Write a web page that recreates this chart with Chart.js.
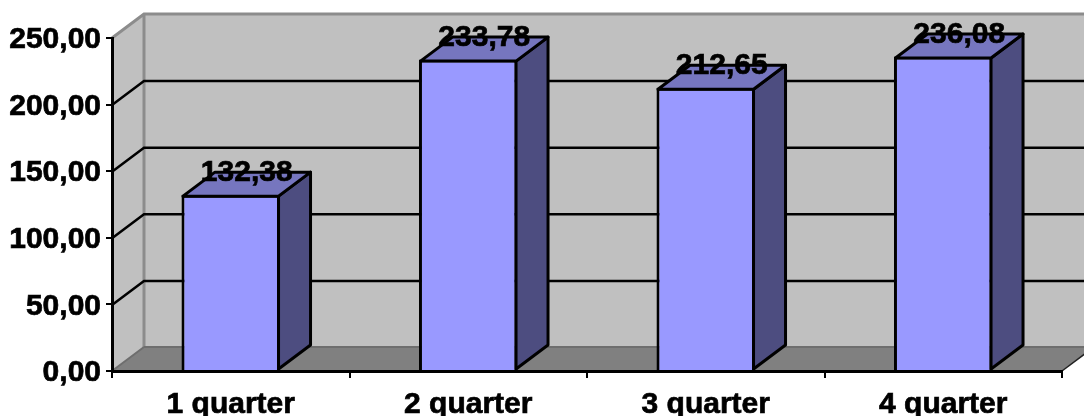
<!DOCTYPE html>
<html>
<head>
<meta charset="utf-8">
<style>
  html, body { margin: 0; padding: 0; background: #fff; }
  canvas { display: block; }
</style>
<script src="https://cdn.jsdelivr.net/npm/chart.js@4/dist/chart.umd.min.js"></script>
</head>
<body>
<canvas id="quarters" width="1084" height="416"></canvas>
<script>
const categories = ['1 quarter', '2 quarter', '3 quarter', '4 quarter'];
const values = [132.38, 233.78, 212.65, 236.08];
const yTicks = [0, 50, 100, 150, 200, 250];

const DEPTH_X = 32;
const DEPTH_Y = -24;
const FONT = 'bold 30px "Liberation Sans", Arial, sans-serif';

const fmt = v => v.toFixed(2).replace('.', ',');

function poly(ctx, pts, fill, stroke, lineWidth) {
  ctx.beginPath();
  pts.forEach((p, i) => (i ? ctx.lineTo(p[0], p[1]) : ctx.moveTo(p[0], p[1])));
  ctx.closePath();
  if (fill) {
    ctx.fillStyle = fill;
    ctx.fill();
  }
  if (stroke) {
    ctx.strokeStyle = stroke;
    ctx.lineWidth = lineWidth;
    ctx.lineJoin = 'round';
    ctx.stroke();
  }
}

// walls and floor of the 3d box, behind everything else
const box3d = {
  id: 'box3d',
  beforeDraw(chart) {
    const { ctx, scales } = chart;
    const l = scales.x.left, r = scales.x.right;
    const t = scales.y.getPixelForValue(250), b = scales.y.getPixelForValue(0);
    const dx = DEPTH_X, dy = DEPTH_Y;
    ctx.save();
    poly(ctx, [[l + dx, t + dy], [r + dx, t + dy], [r + dx, b + dy], [l + dx, b + dy]], '#c0c0c0');
    poly(ctx, [[l, t], [l + dx, t + dy], [l + dx, b + dy], [l, b]], '#c0c0c0');
    poly(ctx, [[l, b], [l + dx, b + dy], [r + dx, b + dy], [r, b]], '#808080');

    // gray edges
    ctx.strokeStyle = '#8c8c8c';
    ctx.lineWidth = 3;
    ctx.beginPath();
    ctx.moveTo(l, t);
    ctx.lineTo(l + dx, t + dy);
    ctx.lineTo(r + dx, t + dy);
    ctx.moveTo(l + dx, t + dy);
    ctx.lineTo(l + dx, b + dy);
    ctx.stroke();
    ctx.strokeStyle = '#6e6e6e';
    ctx.lineWidth = 2;
    ctx.beginPath();
    ctx.moveTo(l + dx, b + dy);
    ctx.lineTo(r + dx, b + dy);
    ctx.moveTo(l, b);
    ctx.lineTo(l + dx, b + dy);
    ctx.stroke();
    ctx.strokeStyle = '#222';
    ctx.lineWidth = 1.5;
    ctx.beginPath();
    ctx.moveTo(r, b);
    ctx.lineTo(r + dx, b + dy);
    ctx.stroke();

    // gridlines run across the side wall and the back wall
    ctx.strokeStyle = '#000';
    ctx.lineWidth = 2.5;
    yTicks.slice(1, -1).forEach(v => {
      const y = scales.y.getPixelForValue(v) + 0.5;
      ctx.beginPath();
      ctx.moveTo(l, y);
      ctx.lineTo(l + dx, y + dy);
      ctx.lineTo(r + dx, y + dy);
      ctx.stroke();
    });
    ctx.restore();
  },
  // side and top faces of each bar, taken from the bar elements
  afterDatasetsDraw(chart) {
    const { ctx } = chart;
    const dx = DEPTH_X, dy = DEPTH_Y;
    ctx.save();
    chart.getDatasetMeta(0).data.forEach(bar => {
      const a = bar.x - bar.width / 2 + 1.5;
      const c = bar.x + bar.width / 2 - 1.5;
      const y = bar.y + 1.5;
      const b = bar.base - 1;
      poly(ctx, [[c, y], [c + dx, y + dy], [c + dx, b + dy], [c, b]], '#4d4d80', '#000', 3);
      poly(ctx, [[a, y], [a + dx, y + dy], [c + dx, y + dy], [c, y]], '#7676bf', '#000', 3);
    });
    ctx.restore();
  },
  // value labels sit on the back edge of the top face
  afterDraw(chart) {
    const { ctx } = chart;
    ctx.save();
    ctx.font = FONT;
    ctx.fillStyle = '#000';
    ctx.strokeStyle = '#000';
    ctx.lineWidth = 0.7;
    ctx.textAlign = 'center';
    ctx.textBaseline = 'middle';
    chart.getDatasetMeta(0).data.forEach((bar, i) => {
      const x = bar.x + DEPTH_X / 2;
      const y = bar.y + DEPTH_Y + 2;
      ctx.fillText(fmt(values[i]), x, y);
      ctx.strokeText(fmt(values[i]), x, y);
    });
    ctx.restore();
  }
};

new Chart(document.getElementById('quarters'), {
  type: 'bar',
  data: {
    labels: categories,
    datasets: [{
      data: values,
      backgroundColor: '#9999ff',
      borderColor: '#000',
      borderWidth: 3,
      barPercentage: 0.415,
      categoryPercentage: 1
    }]
  },
  options: {
    responsive: false,
    animation: false,
    layout: { padding: { top: 38, right: 22, left: 0, bottom: 0 } },
    plugins: { legend: { display: false }, tooltip: { enabled: false } },
    scales: {
      x: {
        afterFit: s => { s.height = 45; },
        border: { color: '#000', width: 3 },
        grid: { drawOnChartArea: false, color: '#000', lineWidth: 2, tickLength: 7 },
        ticks: {
          color: '#000',
          padding: 9,
          maxRotation: 0,
          textStrokeColor: '#000',
          textStrokeWidth: 0.7,
          font: { family: '"Liberation Sans", Arial, sans-serif', size: 30, weight: 'bold' }
        }
      },
      y: {
        min: 0,
        max: 250,
        afterFit: s => { s.width = 112; },
        afterBuildTicks: s => { s.ticks = yTicks.map(value => ({ value })); },
        border: { color: '#000', width: 3 },
        grid: { drawOnChartArea: false, color: '#000', lineWidth: 2, tickLength: 6 },
        ticks: {
          color: '#000',
          padding: 5,
          labelOffset: 2,
          textStrokeColor: '#000',
          textStrokeWidth: 0.7,
          callback: v => fmt(v),
          font: { family: '"Liberation Sans", Arial, sans-serif', size: 30, weight: 'bold' }
        }
      }
    }
  },
  plugins: [box3d]
});
</script>
</body>
</html>
